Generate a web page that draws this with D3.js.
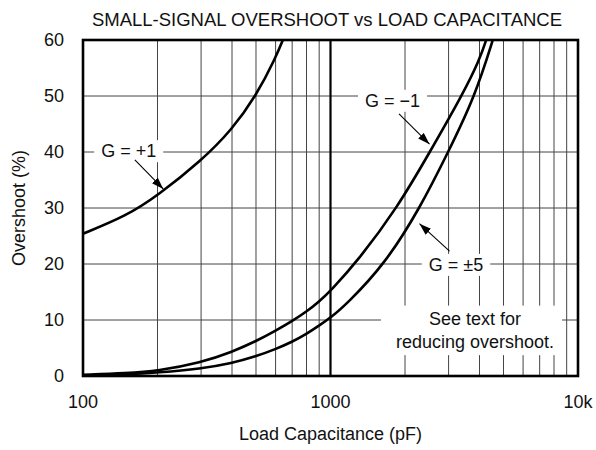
<!DOCTYPE html>
<html>
<head>
<meta charset="utf-8">
<script src="https://cdn.jsdelivr.net/npm/d3@7"></script>
<style>
  body { margin: 0; background: #fff; }
  text { font-family: "Liberation Sans", Arial, Helvetica, sans-serif; fill: #111; }
</style>
</head>
<body>
<div id="chart"></div>
<script>
// --- DATA ---
const yTicks = [0, 10, 20, 30, 40, 50, 60];
const xTickValues = [100, 1000, 10000];
const xTickLabels = ["100", "1000", "10k"];
const minorDecades = [100, 1000];

// G = +1
const gPlus1Cap = [100, 150, 200, 300, 400, 500, 600, 650];
const gPlus1Os  = [25.4, 28.6, 32.2, 38.4, 44.0, 50.0, 56.8, 60.6];

// G = -1
const gMinus1Cap = [100, 150, 200, 300, 400, 500, 600, 700, 800, 900, 1000, 1280, 1860, 2520, 3390, 4000, 4300];
const gMinus1Os  = [0.2, 0.5, 0.9, 2.4, 4.3, 6.2, 8.1, 9.8, 11.5, 13.3, 15.2, 20.4, 30, 40, 50, 56.4, 60.6];

// G = ±5
const gPlus5Cap = [100, 150, 200, 300, 400, 500, 600, 700, 800, 900, 1000, 1160, 1660, 2300, 2990, 3840, 4570];
const gPlus5Os  = [0.1, 0.3, 0.6, 1.3, 2.3, 3.5, 4.8, 6.1, 7.5, 9.0, 10.4, 12.8, 20, 30, 40, 50, 60.6];

// annotations (data coordinates)
const labels = [
  { text: "G = +1", x: 153, y: 40.2, from: [162, 38.6], to: [211, 33.4] },
  { text: "G = \u22121", x: 1781, y: 49.2, from: [1892, 46.8], to: [2512, 41.4] },
  { text: "G = \u00b15", x: 3214, y: 19.9, from: [3026, 22.3], to: [2288, 27.2] }
];
const noteLines = ["See text for", "reducing overshoot."];
const notePos = { x: 3836, y: 10.3, y2: 6.1 };

// --- LAYOUT ---
const W = 596, H = 450;
const margin = { top: 40, right: 18, bottom: 74, left: 83 };
const width = W - margin.left - margin.right;
const height = H - margin.top - margin.bottom;

const svg = d3.select("#chart").append("svg").attr("width", W).attr("height", H);
const g = svg.append("g").attr("transform", `translate(${margin.left},${margin.top})`);

const x = d3.scaleLog().domain([100, 10000]).range([0, width]);
const y = d3.scaleLinear().domain([0, 60]).range([height, 0]);

const defs = svg.append("defs");
defs.append("marker")
  .attr("id", "arrow").attr("viewBox", "0 0 12 8")
  .attr("refX", 12).attr("refY", 4)
  .attr("markerWidth", 12).attr("markerHeight", 8)
  .attr("markerUnits", "userSpaceOnUse")
  .attr("orient", "auto")
  .append("path").attr("d", "M0,0 L12,4 L0,8 Z").attr("fill", "#000");
defs.append("clipPath").attr("id", "plotClip")
  .append("rect").attr("width", width).attr("height", height);

// grid
const minor = [];
minorDecades.forEach(d => { for (let k = 2; k <= 9; k++) minor.push(d * k); });
g.selectAll(".vgrid").data(minor).enter().append("line")
  .attr("x1", d => x(d)).attr("x2", d => x(d)).attr("y1", 0).attr("y2", height)
  .attr("stroke", "#444").attr("stroke-width", 1);
g.selectAll(".hgrid").data(yTicks.slice(1, -1)).enter().append("line")
  .attr("x1", 0).attr("x2", width).attr("y1", d => y(d)).attr("y2", d => y(d))
  .attr("stroke", "#444").attr("stroke-width", 1);
g.append("line").attr("x1", x(1000)).attr("x2", x(1000)).attr("y1", 0).attr("y2", height)
  .attr("stroke", "#000").attr("stroke-width", 2.2);

// label boxes + text
const labelG = g.append("g");
labels.forEach(l => {
  const t = labelG.append("text").attr("x", x(l.x)).attr("y", y(l.y))
    .attr("text-anchor", "middle").attr("dy", "0.35em")
    .style("font-size", "18px").text(l.text);
  const b = t.node().getBBox();
  labelG.insert("rect", "text").attr("x", b.x - 7).attr("y", b.y - 1)
    .attr("width", b.width + 14).attr("height", b.height + 2).attr("fill", "#fff");
});
const n1 = labelG.append("text").attr("x", x(notePos.x)).attr("y", y(notePos.y)).attr("dy", "0.35em")
  .attr("text-anchor", "middle").style("font-size", "18px").text(noteLines[0]);
const n2 = labelG.append("text").attr("x", x(notePos.x)).attr("y", y(notePos.y2)).attr("dy", "0.35em")
  .attr("text-anchor", "middle").style("font-size", "18px").text(noteLines[1]);
const b1 = n1.node().getBBox(), b2 = n2.node().getBBox();
labelG.insert("rect", "text").attr("x", b2.x - 15).attr("y", b1.y - 3)
  .attr("width", b2.width + 23).attr("height", b2.y + b2.height - b1.y + 6).attr("fill", "#fff");

// curves
const line = d3.line().x(d => x(d[0])).y(d => y(d[1])).curve(d3.curveBasis);
[[gPlus1Cap, gPlus1Os], [gMinus1Cap, gMinus1Os], [gPlus5Cap, gPlus5Os]].forEach(([c, o]) => {
  g.append("path").datum(c.map((v, i) => [v, o[i]]))
    .attr("clip-path", "url(#plotClip)")
    .attr("fill", "none").attr("stroke", "#000").attr("stroke-width", 2.6)
    .attr("d", line);
});

// arrows
labels.forEach(l => {
  g.append("line")
    .attr("x1", x(l.from[0])).attr("y1", y(l.from[1]))
    .attr("x2", x(l.to[0])).attr("y2", y(l.to[1]))
    .attr("stroke", "#000").attr("stroke-width", 1.1)
    .attr("marker-end", "url(#arrow)");
});

// frame
g.append("rect").attr("width", width).attr("height", height)
  .attr("fill", "none").attr("stroke", "#000").attr("stroke-width", 2.6);

// tick labels
g.selectAll(".ylab").data(yTicks).enter().append("text")
  .attr("x", -19).attr("y", d => y(d)).attr("dy", "0.35em")
  .attr("text-anchor", "end").style("font-size", "18px").text(d => d);
g.selectAll(".xlab").data(xTickValues).enter().append("text")
  .attr("x", d => x(d)).attr("y", height + 32)
  .attr("text-anchor", "middle").style("font-size", "18px").text((d, i) => xTickLabels[i]);

// titles
svg.append("text").attr("x", 327).attr("y", 26).attr("text-anchor", "middle")
  .style("font-size", "18.5px").text("SMALL-SIGNAL OVERSHOOT vs LOAD CAPACITANCE");
svg.append("text").attr("x", margin.left + width / 2).attr("y", 440).attr("text-anchor", "middle")
  .style("font-size", "18px").text("Load Capacitance (pF)");
svg.append("text").attr("transform", `translate(25,${margin.top + height / 2}) rotate(-90)`)
  .attr("text-anchor", "middle").style("font-size", "18px").text("Overshoot (%)");
</script>
</body>
</html>
